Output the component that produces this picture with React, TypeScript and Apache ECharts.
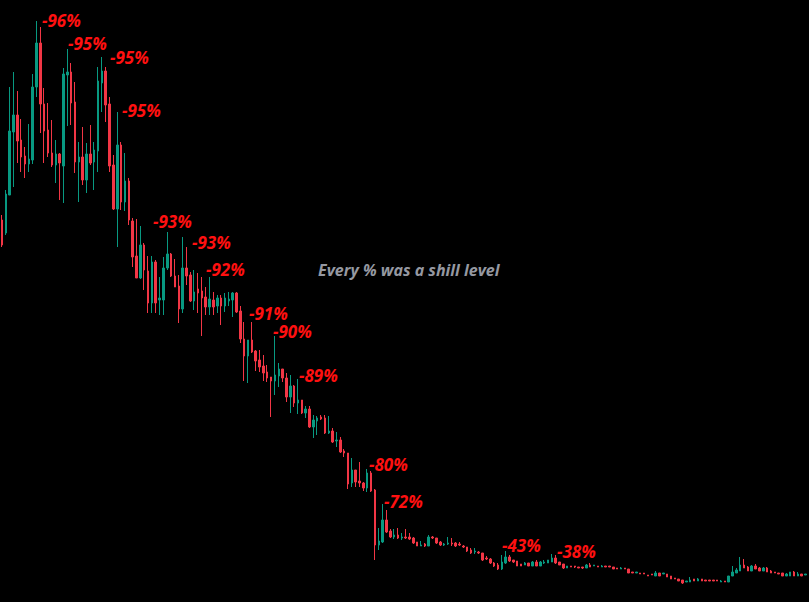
import React, { useEffect, useRef } from "react";
import * as echarts from "echarts";

// Each candle: [open, close, low, high] (price units)
const peakPhase: number[][] = [
  [380, 355, 353, 385], [367, 406, 365, 410], [405, 469, 405, 513], [468, 485, 413, 528],
  [485, 459, 437, 509], [460, 443, 428, 481], [444, 436, 422, 453], [436, 441, 428, 476],
  [440, 513, 436, 526], [513, 557, 503, 579], [557, 496, 467, 573], [496, 469, 437, 512],
  [470, 447, 443, 497], [447, 435, 433, 480], [435, 446, 417, 460], [446, 437, 400, 447],
  [434, 526, 397, 532], [525, 528, 474, 551], [528, 497, 475, 537], [498, 438, 427, 518],
  [438, 443, 398, 458], [443, 420, 415, 473], [420, 446, 407, 457], [446, 437, 435, 475],
  [438, 450, 410, 458], [449, 519, 428, 533], [517, 529, 488, 543], [529, 495, 478, 533],
  [496, 434, 428, 503], [435, 391, 390, 445], [391, 455, 353, 488], [455, 398, 390, 458],
  [398, 419, 389, 447], [419, 380, 375, 422], [379, 343, 333, 382], [344, 322, 322, 381],
];

const declinePhase: number[][] = [
  [322, 355, 321, 374], [355, 330, 310, 357], [329, 297, 287, 344], [297, 338, 287, 344],
  [338, 297, 287, 340], [300, 302, 285, 323], [300, 332, 285, 343], [332, 346, 330, 368],
  [346, 324, 323, 347], [324, 313, 313, 341], [314, 291, 277, 325], [291, 332, 287, 363],
  [332, 324, 315, 353], [325, 299, 298, 328], [299, 308, 290, 330], [311, 307, 287, 327],
  [309, 302, 264, 323], [303, 293, 285, 313], [293, 301, 285, 323], [300, 293, 285, 308],
  [294, 302, 287, 305], [302, 294, 275, 305], [294, 302, 288, 307], [299, 301, 294, 308],
  [300, 307, 283, 308], [307, 288, 287, 308], [289, 261, 257, 294], [261, 244, 219, 278],
  [244, 260, 217, 260], [260, 248, 247, 278], [249, 239, 229, 250], [240, 233, 228, 250],
  [234, 227, 219, 245], [228, 222, 218, 235], [223, 219, 183, 223], [219, 225, 205, 264],
  [224, 231, 213, 237], [231, 222, 218, 231], [222, 203, 198, 227], [203, 214, 187, 225],
  [214, 197, 193, 215], [197, 200, 186, 221], [200, 187, 186, 200], [187, 191, 182, 194],
  [191, 173, 172, 194], [173, 180, 162, 185], [179, 182, 165, 184], [183, 181, 180, 185],
  [182, 167, 166, 185], [167, 169, 166, 184], [169, 158, 157, 172], [159, 160, 153, 168],
  [160, 148, 147, 163], [149, 147, 143, 151], [147, 116, 111, 147], [117, 130, 113, 142],
  [130, 118, 113, 130], [119, 117, 113, 138], [117, 112, 109, 118], [112, 127, 108, 131],
  [127, 109, 108, 129],
];

const crashPhase: number[][] = [
  [110, 55, 40, 111], [55, 59, 50, 72], [58, 80, 57, 96], [80, 68, 67, 90],
  [69, 63, 62, 71], [63, 65, 61, 71], [65, 62, 61, 72], [62, 63, 60, 67],
  [63, 62, 61, 71], [63, 61, 60, 67], [62, 57, 56, 63], [58, 54, 54, 58],
  [54, 55, 54, 59], [56, 54, 53, 57], [54, 63, 54, 65], [63, 62, 61, 64],
  [62, 57, 56, 62], [58, 55, 54, 59], [55, 56, 54, 57], [56, 57, 55, 63],
  [57, 56, 54, 62], [57, 54, 53, 58], [56, 55, 54, 58], [54, 53, 52, 55],
  [53, 49, 48, 53], [50, 47, 46, 52], [48, 49, 46, 52], [48, 47, 46, 49],
  [47, 40, 39, 47], [42, 41, 40, 44], [41, 37, 36, 42], [37, 34, 33, 38],
  [35, 31, 30, 37], [31, 38, 30, 45], [37, 43, 36, 49], [43, 39, 38, 45],
  [40, 38, 37, 40], [39, 34, 34, 39], [36, 34, 34, 36], [35, 37, 35, 38],
  [37, 34, 34, 37], [34, 38, 34, 39], [38, 34, 34, 40], [34, 38, 34, 39],
  [37, 38, 36, 40], [37, 40, 37, 40], [38, 42, 38, 46], [42, 37, 36, 45],
  [38, 35, 35, 38], [36, 32, 31, 36],
];

const basePhase: number[][] = [
  [32, 34, 32, 34], [34, 33, 33, 34], [34, 33, 32, 34], [33, 32, 32, 33],
  [33, 32, 31, 33], [32, 35, 32, 36], [35, 33, 33, 37], [34, 35, 34, 35],
  [34, 33, 33, 34], [33, 34, 33, 35], [34, 33, 33, 34], [34, 33, 33, 34],
  [33, 31, 31, 33], [32, 31, 31, 32], [31, 32, 31, 33], [32, 31, 31, 32],
  [31, 27, 27, 31], [28, 27, 27, 28], [27, 28, 27, 28], [27, 26, 26, 27],
  [27, 26, 26, 27], [25, 24, 24, 25], [26, 25, 25, 26], [24, 27, 24, 29],
  [27, 24, 24, 27], [26, 27, 26, 27], [26, 23, 23, 26], [24, 21, 21, 24],
  [22, 21, 21, 22], [21, 19, 19, 21], [20, 17, 16, 20], [18, 19, 18, 19],
  [18, 20, 18, 23], [21, 19, 19, 21], [19, 21, 19, 22], [21, 19, 19, 21],
  [20, 19, 19, 20], [20, 19, 19, 20], [20, 19, 19, 20], [20, 19, 19, 20],
  [18, 19, 18, 20], [19, 18, 18, 19], [18, 24, 18, 24], [24, 28, 24, 34],
  [27, 30, 27, 32], [29, 35, 29, 43], [35, 32, 32, 41], [33, 29, 29, 34],
  [29, 34, 29, 35], [34, 31, 31, 36], [32, 29, 29, 33], [29, 32, 29, 33],
  [32, 28, 28, 33], [29, 27, 27, 30], [28, 27, 27, 28], [27, 26, 26, 27],
  [27, 24, 24, 27], [24, 26, 24, 27], [24, 28, 24, 28], [28, 24, 24, 29],
  [24, 26, 24, 28], [26, 24, 24, 26], [25, 26, 25, 26],
];

// Annotations: label texts and their anchor (left x, center y)
const labelTexts: string[] = [
  "-96%", "-95%", "-95%", "-95%", "-93%", "-93%", "-92%",
  "-91%", "-90%", "-89%", "-80%", "-72%", "-43%", "-38%",
];
const labelPos: number[][] = [
  [42, 20], [68, 43], [110, 57], [122, 110], [153, 221], [192, 242], [206, 269],
  [249, 313], [273, 331], [299, 375], [369, 464], [384, 501], [502, 545], [557, 551],
];
const noteText = "Every % was a shill level";

export default function App() {
  const ref = useRef<HTMLDivElement>(null);
  useEffect(() => {
    document.body.style.margin = "0";
    document.body.style.background = "#000";
    if (!ref.current) return;
    const chart = echarts.init(ref.current, undefined, { renderer: "svg" });
    const data = [...peakPhase, ...declinePhase, ...crashPhase, ...basePhase];
    const cats = data.map((_, i) => String(i));
    const graphics: any[] = labelTexts.map((t, i) => ({
      type: "text",
      x: labelPos[i][0],
      y: labelPos[i][1],
      style: {
        text: t,
        fill: "#ff1010",
        font: 'italic bold 17px "Open Sans"',
        verticalAlign: "middle",
        align: "left",
      },
      z: 100,
    }));
    graphics.push({
      type: "text",
      x: 318,
      y: 270,
      style: {
        text: noteText,
        fill: "#9598a1",
        font: 'italic bold 16px "Open Sans"',
        verticalAlign: "middle",
        align: "left",
      },
      z: 100,
    });
    chart.setOption({
      animation: false,
      backgroundColor: "#000000",
      grid: { left: -1, right: 1.5, top: 0, bottom: 2 },
      xAxis: {
        type: "category",
        data: cats,
        show: false,
        boundaryGap: true,
      },
      yAxis: {
        type: "value",
        min: 0,
        max: 600,
        show: false,
        splitLine: { show: false },
      },
      series: [
        {
          type: "candlestick",
          data,
          barWidth: 2,
          itemStyle: {
            color: "#089981",
            color0: "#f23645",
            borderColor: "#089981",
            borderColor0: "#f23645",
            borderWidth: 1,
          },
        },
      ],
      graphic: graphics,
    });
    return () => chart.dispose();
  }, []);
  return <div ref={ref} style={{ width: 809, height: 602 }} />;
}
